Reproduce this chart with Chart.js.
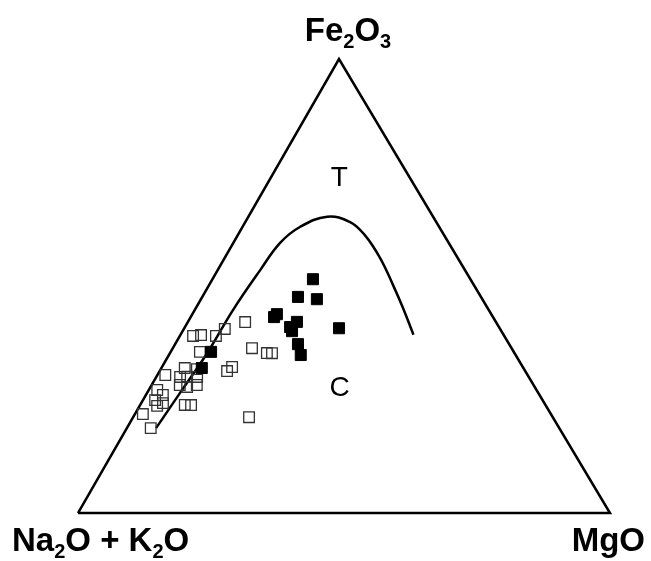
<!DOCTYPE html>
<html>
<head>
<meta charset="utf-8">
<script src="https://cdn.jsdelivr.net/npm/chart.js@4.4.1/dist/chart.umd.min.js"></script>
<style>
  html, body { margin: 0; padding: 0; background: #fff; }
  #wrap { width: 651px; height: 561px; position: relative; }
</style>
</head>
<body>
<div id="wrap"><canvas id="afm"></canvas></div>
<script>
// AFM ternary: each sample is [Fe2O3, Na2O+K2O, MgO] in %
const openFe  = [42.1, 39.0, 39.2, 39.0, 40.5, 36.3, 35.2, 35.2, 35.5, 32.2, 31.3, 30.4, 31.9, 30.0, 30.0,
                 28.2, 27.8, 30.0, 28.2, 27.1, 26.0, 24.9, 24.2, 23.6, 23.8, 23.8, 21.8, 18.7, 21.1, 31.7];
const openAlk = [47.2, 58.5, 56.9, 54.2, 51.7, 48.8, 46.5, 45.6, 59.0, 54.7, 56.1, 68.1, 63.6, 65.6, 64.2,
                 66.5, 65.4, 62.4, 63.3, 71.3, 70.8, 72.9, 71.7, 73.1, 67.8, 66.7, 76.7, 76.8, 57.1, 61.5];
const openMg  = [10.8, 2.5, 3.9, 6.8, 7.7, 14.9, 18.2, 19.2, 5.5, 13.2, 12.7, 1.5, 4.4, 4.5, 5.8,
                 5.3, 6.9, 7.7, 8.5, 1.6, 3.2, 2.3, 4.1, 3.3, 8.4, 9.6, 1.5, 4.5, 21.8, 6.8];

const filledFe  = [51.5, 47.6, 47.1, 43.8, 43.2, 42.1, 41.0, 40.1, 40.7, 37.2, 34.8, 35.5, 31.9];
const filledAlk = [29.6, 34.4, 31.1, 40.3, 41.2, 37.4, 39.3, 39.4, 30.2, 39.7, 40.4, 56.9, 60.4];
const filledMg  = [18.9, 18.0, 21.8, 15.9, 15.7, 20.5, 19.8, 20.6, 29.1, 23.1, 24.8, 7.6, 7.6];

// tholeiitic / calc-alkaline boundary
const curveFe  = [18.7, 26.4, 35.2, 44.7, 53.5, 59.5, 63.0, 65.2, 64.1, 61.2, 56.2, 50.2, 45.2, 39.2];
const curveAlk = [75.8, 67.4, 57.8, 48.1, 38.5, 31.7, 26.2, 19.9, 16.2, 14.9, 14.6, 15.2, 15.9, 16.9];
const curveMg  = [5.5, 6.2, 7.0, 7.2, 8.0, 8.8, 10.8, 14.8, 19.7, 23.9, 29.2, 34.6, 38.9, 43.7];

// corners of the diagram
const cornerFe  = [0, 100, 0, 0];
const cornerAlk = [100, 0, 0, 100];
const cornerMg  = [0, 0, 100, 0];

// field labels
const fieldNames = ['T', 'C'];
const fieldFe    = [73.8, 27.5];
const fieldAlk   = [13.3, 36.8];
const fieldMg    = [12.9, 35.7];

// apex sits a little left of the base centre in the original
const APEX_X = 0.4906;

function toXY(fe, alk, mg) {
    const s = fe + alk + mg;
    return { x: (mg + fe * APEX_X) / s * 100, y: fe / s * 100 };
}
function points(fe, alk, mg) {
    return fe.map((f, i) => toXY(f, alk[i], mg[i]));
}

// vertex labels with subscripts
const vertexLabels = {
    id: 'vertexLabels',
    afterDraw(chart) {
        const ctx = chart.ctx;
        const xs = chart.scales.x, ys = chart.scales.y;
        ctx.save();
        ctx.fillStyle = '#000';

        // field letters
        ctx.font = '28px "Liberation Sans", Arial, sans-serif';
        ctx.textAlign = 'center';
        ctx.textBaseline = 'middle';
        fieldNames.forEach((t, i) => {
            const p = toXY(fieldFe[i], fieldAlk[i], fieldMg[i]);
            ctx.fillText(t, xs.getPixelForValue(p.x), ys.getPixelForValue(p.y));
        });

        ctx.textBaseline = 'alphabetic';
        const big = 'bold 33px "Liberation Sans", Arial, sans-serif';
        const small = 'bold 20px "Liberation Sans", Arial, sans-serif';
        function width(parts) {
            let w = 0;
            parts.forEach(p => { ctx.font = p[1] ? small : big; w += ctx.measureText(p[0]).width; });
            return w;
        }
        function draw(parts, x, y) {
            parts.forEach(p => {
                ctx.font = p[1] ? small : big;
                ctx.textAlign = 'left';
                ctx.fillText(p[0], x, y + (p[1] ? 7 : 0));
                x += ctx.measureText(p[0]).width;
            });
        }
        const top = toXY(100, 0, 0), left = toXY(0, 100, 0), right = toXY(0, 0, 100);
        const fe = [['Fe', 0], ['2', 1], ['O', 0], ['3', 1]];
        const na = [['Na', 0], ['2', 1], ['O + K', 0], ['2', 1], ['O', 0]];
        const mgo = [['MgO', 0]];
        const tx = xs.getPixelForValue(top.x), ty = ys.getPixelForValue(top.y);
        draw(fe, tx + 9 - width(fe) / 2, ty - 18);
        const ly = ys.getPixelForValue(left.y);
        draw(na, xs.getPixelForValue(left.x) - 66, ly + 38);
        draw(mgo, xs.getPixelForValue(right.x) + 35 - width(mgo), ly + 38);
        ctx.restore();
    }
};

new Chart(document.getElementById('afm'), {
    type: 'scatter',
    data: {
        datasets: [
            {
                label: 'frame',
                data: points(cornerFe, cornerAlk, cornerMg),
                showLine: true,
                borderColor: '#000',
                borderWidth: 2.5,
                pointRadius: 0,
                order: 4
            },
            {
                label: 'boundary',
                data: points(curveFe, curveAlk, curveMg),
                showLine: true,
                tension: 0.4,
                borderColor: '#000',
                borderWidth: 2.5,
                pointRadius: 0,
                order: 3
            },
            {
                label: 'open',
                data: points(openFe, openAlk, openMg),
                pointStyle: 'rect',
                pointRadius: 7.5,
                backgroundColor: 'rgba(0,0,0,0)',
                borderColor: '#333',
                borderWidth: 1.3,
                order: 2
            },
            {
                label: 'filled',
                data: points(filledFe, filledAlk, filledMg),
                pointStyle: 'rect',
                pointRadius: 7.8,
                backgroundColor: '#000',
                borderColor: '#000',
                borderWidth: 1,
                order: 1
            }
        ]
    },
    options: {
        responsive: true,
        maintainAspectRatio: false,
        animation: false,
        layout: { padding: 0, autoPadding: false },
        plugins: { legend: { display: false }, tooltip: { enabled: false } },
        scales: {
            x: { type: 'linear', display: false, min: -14.66, max: 107.71 },
            y: { type: 'linear', display: false, min: -10.57, max: 113.0 }
        }
    },
    plugins: [vertexLabels]
});
</script>
</body>
</html>
